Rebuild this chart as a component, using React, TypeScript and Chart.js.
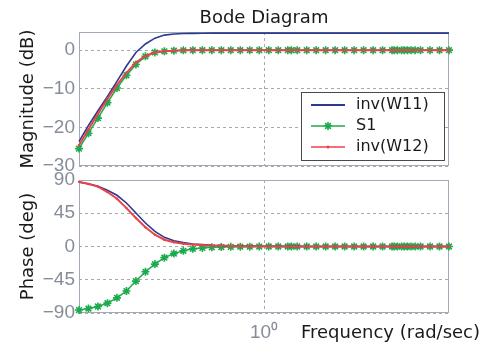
import React, { useEffect, useRef } from 'react';
import { Chart, registerables } from 'chart.js';

Chart.register(...registerables);

// Frequency samples (rad/sec)
const FREQ = [
  0.1, 0.1125, 0.1266, 0.1425, 0.1604, 0.1805, 0.2031, 0.2286, 0.2572, 0.2894,
  0.3257, 0.3665, 0.4125, 0.4642, 0.5223, 0.5878, 0.6614, 0.7443, 0.8376, 0.9427,
  1.061, 1.194, 1.344, 1.406, 1.512, 1.702, 1.915, 2.154, 2.424, 2.728,
  3.07, 3.455, 3.888, 4.375, 4.924, 5.05, 5.26, 5.541, 5.72, 5.96,
  6.236, 6.56, 7.017, 7.897, 8.886, 10,
];

// Magnitude (dB)
const MAG_W11 = [
  -23.7, -19.5, -15.7, -12.0, -8.1, -4.1, -0.6, 1.6, 3.1, 3.9,
  4.2, 4.3, 4.35, 4.38, 4.4, 4.4, 4.4, 4.4, 4.4, 4.4,
  4.4, 4.4, 4.4, 4.4, 4.4, 4.4, 4.4, 4.4, 4.4, 4.4,
  4.4, 4.4, 4.4, 4.4, 4.4, 4.4, 4.4, 4.4, 4.4, 4.4,
  4.4, 4.4, 4.4, 4.4, 4.4, 4.4,
];
const MAG_S1 = [
  -25.5, -21.5, -17.6, -13.6, -9.8, -6.5, -3.7, -1.6, -0.6, -0.3,
  -0.15, -0.05, 0, 0, 0, 0, 0, 0, 0, 0,
  0, 0, 0, 0, 0, 0, 0, 0, 0, 0,
  0, 0, 0, 0, 0, 0, 0, 0, 0, 0,
  0, 0, 0, 0, 0, 0,
];
const MAG_W12 = [
  -24.6, -20.5, -16.5, -12.6, -9.0, -5.9, -3.2, -1.5, -0.6, -0.3,
  -0.15, -0.05, 0, 0, 0, 0, 0, 0, 0, 0,
  0, 0, 0, 0, 0, 0, 0, 0, 0, 0,
  0, 0, 0, 0, 0, 0, 0, 0, 0, 0,
  0, 0, 0, 0, 0, 0,
];

// Phase (deg)
const PH_W11 = [
  87, 85, 81.5, 76, 69.3, 58.9, 45.3, 31.8, 20.5, 12.4,
  7.9, 5.2, 3.4, 2.5, 1.7, 1.2, 0.9, 0.7, 0.5, 0.4,
  0.3, 0.25, 0.2, 0.2, 0.15, 0.1, 0.1, 0.1, 0.05, 0.05,
  0, 0, 0, 0, 0, 0, 0, 0, 0, 0,
  0, 0, 0, 0, 0, 0,
];
const PH_S1 = [
  -86, -84, -81.2, -76.7, -69.5, -60.3, -46.8, -34.2, -23.8, -15.1,
  -9.6, -5.8, -3.2, -2, -1.1, -0.8, -0.5, -0.3, -0.2, -0.1,
  0, 0, 0, 0, 0, 0, 0, 0, 0, 0,
  0, 0, 0, 0, 0, 0, 0, 0, 0, 0,
  0, 0, 0, 0, 0, 0,
];
const PH_W12 = [
  87.5, 84.5, 81, 73.7, 64.7, 52, 38.6, 26, 16, 9.2,
  5.7, 3.8, 2.6, 1.8, 1.2, 0.9, 0.6, 0.4, 0.3, 0.2,
  0.15, 0.1, 0.1, 0.1, 0.05, 0.05, 0, 0, 0, 0,
  0, 0, 0, 0, 0, 0, 0, 0, 0, 0,
  0, 0, 0, 0, 0, 0,
];

const SERIES_LABELS = ['inv(W11)', 'S1', 'inv(W12)'];
const MAG_TICKS = [-30, -20, -10, 0];
const PHASE_TICKS = [-90, -45, 0, 45, 90];
const X_TICKS = [1];
const X_TICK_LABELS = ['10\u2070'];
const TITLE = 'Bode Diagram';
const MAG_TITLE = 'Magnitude (dB)';
const PHASE_TITLE = 'Phase (deg)';
const X_TITLE = 'Frequency (rad/sec)';

const FONT = '"Liberation Sans", Arial, sans-serif';
const WIDE_FONT = '"DejaVu Sans", sans-serif';
const BLUE = '#2e3a8e';
const GREEN = '#1daa4c';
const RED = '#e8434a';
const GRID = '#a9a9a9';
const FRAME = '#a2aaba';
const TICK = '#858d99';
const TEXT = '#1a1a1a';

function datasets(w11: number[], s1: number[], w12: number[]) {
  const pts = (arr: number[]) => FREQ.map((f, i) => ({ x: f, y: arr[i] }));
  return [
    {
      label: SERIES_LABELS[0], data: pts(w11), borderColor: BLUE, backgroundColor: BLUE,
      borderWidth: 1.6, pointRadius: 0, order: 1, clip: false as any,
    },
    {
      label: SERIES_LABELS[1], data: pts(s1), borderColor: GREEN, backgroundColor: GREEN,
      borderWidth: 1.5, pointStyle: 'star', pointRadius: 4, pointBorderWidth: 1.6,
      pointBorderColor: GREEN, pointBackgroundColor: GREEN, order: 2, clip: false as any,
    },
    {
      label: SERIES_LABELS[2], data: pts(w12), borderColor: RED, backgroundColor: RED,
      borderWidth: 2, pointRadius: 1.2, pointBorderWidth: 0, pointBackgroundColor: RED,
      order: 0, clip: false as any,
    },
  ];
}

const fmtTick = (v: number) => (v < 0 ? '\u2212' + Math.abs(v) : String(v));

function yScale(min: number, max: number, ticks: number[], title: string) {
  return {
    type: 'linear' as const,
    min, max,
    afterBuildTicks: (s: any) => { s.ticks = ticks.map((v) => ({ value: v })); },
    afterFit: (s: any) => { s.width = 79; },
    grid: { color: GRID, lineWidth: 1, drawTicks: false },
    border: { display: false, dash: [3, 3] },
    ticks: {
      color: TICK, font: { family: FONT, size: 19 }, padding: 4,
      callback: (v: any) => fmtTick(Number(v)),
    },
    title: {
      display: true, text: title, color: TEXT,
      font: { family: WIDE_FONT, size: 18 }, padding: { top: 18, bottom: 0 },
    },
  };
}

function xScale(showLabels: boolean) {
  return {
    type: 'logarithmic' as const,
    min: 0.1, max: 10,
    afterBuildTicks: (s: any) => { s.ticks = X_TICKS.map((v) => ({ value: v })); },
    afterFit: (s: any) => { s.height = showLabels ? 32 : 0; },
    grid: { color: GRID, lineWidth: 1, drawTicks: false },
    border: { display: false, dash: [3, 3] },
    ticks: {
      display: showLabels, color: TICK, font: { family: FONT, size: 19 }, padding: 8,
      maxRotation: 0, autoSkip: false,
      callback: (_v: any, i: number) => X_TICK_LABELS[i],
    },
  };
}

const framePlugin = {
  id: 'frame',
  beforeDatasetsDraw(chart: any) {
    const { ctx, chartArea: a } = chart;
    ctx.save();
    ctx.strokeStyle = FRAME;
    ctx.lineWidth = 1;
    ctx.setLineDash([]);
    ctx.strokeRect(Math.round(a.left) + 0.5, Math.round(a.top) + 0.5,
      Math.round(a.right - a.left) - 1, Math.round(a.bottom - a.top) - 1);
    ctx.restore();
  },
};

function drawStar(ctx: CanvasRenderingContext2D, x: number, y: number, r: number) {
  ctx.beginPath();
  ctx.moveTo(x - r, y); ctx.lineTo(x + r, y);
  ctx.moveTo(x, y - r); ctx.lineTo(x, y + r);
  const d = r * Math.SQRT1_2;
  ctx.moveTo(x - d, y - d); ctx.lineTo(x + d, y + d);
  ctx.moveTo(x - d, y + d); ctx.lineTo(x + d, y - d);
  ctx.stroke();
}

const topDecor = {
  id: 'topDecor',
  afterDraw(chart: any) {
    const { ctx, chartArea: a } = chart;
    ctx.save();
    // title
    ctx.fillStyle = TEXT;
    ctx.font = `18px ${WIDE_FONT}`;
    ctx.textAlign = 'center';
    ctx.textBaseline = 'alphabetic';
    ctx.fillText(TITLE, (a.left + a.right) / 2, 23);
    // legend
    const bx = 301, by = 92, bw = 143, bh = 68;
    ctx.fillStyle = '#ffffff';
    ctx.fillRect(bx, by, bw, bh);
    ctx.strokeStyle = '#4a4a4a';
    ctx.lineWidth = 1;
    ctx.strokeRect(bx + 0.5, by + 0.5, bw, bh);
    const rows = [105, 126, 147];
    const ds = chart.data.datasets;
    ctx.font = `16px ${WIDE_FONT}`;
    for (let i = 0; i < 3; i++) {
      const y = rows[i];
      ctx.strokeStyle = ds[i].borderColor;
      ctx.lineWidth = i === 0 ? 1.8 : 1.5;
      ctx.beginPath();
      ctx.moveTo(311, y); ctx.lineTo(345, y);
      ctx.stroke();
      if (i === 1) {
        ctx.lineWidth = 1.6;
        drawStar(ctx, 328, y, 4);
      } else if (i === 2) {
        ctx.fillStyle = RED;
        ctx.beginPath(); ctx.arc(328, y, 1.5, 0, Math.PI * 2); ctx.fill();
      }
      ctx.fillStyle = TEXT;
      ctx.textAlign = 'left';
      ctx.textBaseline = 'middle';
      ctx.fillText(ds[i].label, 356, y);
    }
    ctx.restore();
  },
};

const bottomDecor = {
  id: 'bottomDecor',
  afterDraw(chart: any) {
    const { ctx } = chart;
    ctx.save();
    ctx.fillStyle = TEXT;
    ctx.font = `18px ${WIDE_FONT}`;
    ctx.textAlign = 'left';
    ctx.textBaseline = 'alphabetic';
    ctx.fillText(X_TITLE, 301, 338);
    ctx.restore();
  },
};

function makeConfig(kind: 'mag' | 'phase'): any {
  const isMag = kind === 'mag';
  return {
    type: 'line',
    data: {
      datasets: isMag ? datasets(MAG_W11, MAG_S1, MAG_W12) : datasets(PH_W11, PH_S1, PH_W12),
    },
    options: {
      responsive: false,
      animation: false,
      devicePixelRatio: 1,
      layout: {
        padding: isMag
          ? { left: 0, right: 37, top: 32, bottom: 179 }
          : { left: 0, right: 37, top: 180, bottom: 0 },
      },
      plugins: { legend: { display: false }, title: { display: false }, tooltip: { enabled: false } },
      elements: { line: { tension: 0 } },
      scales: {
        x: xScale(!isMag),
        y: isMag ? yScale(-30, 4.7, MAG_TICKS, MAG_TITLE) : yScale(-90, 90, PHASE_TICKS, PHASE_TITLE),
      },
    },
    plugins: [framePlugin, isMag ? topDecor : bottomDecor],
  };
}

export default function App() {
  const topRef = useRef<HTMLCanvasElement>(null);
  const botRef = useRef<HTMLCanvasElement>(null);
  useEffect(() => {
    const bot = new Chart(botRef.current as HTMLCanvasElement, makeConfig('phase'));
    const top = new Chart(topRef.current as HTMLCanvasElement, makeConfig('mag'));
    return () => { top.destroy(); bot.destroy(); };
  }, []);
  return (
    <div style={{ position: 'fixed', left: 0, top: 0, width: 486, height: 345, background: '#ffffff' }}>
      <canvas ref={botRef} width={486} height={345} style={{ position: 'absolute', left: 0, top: 0 }} />
      <canvas ref={topRef} width={486} height={345} style={{ position: 'absolute', left: 0, top: 0 }} />
    </div>
  );
}
